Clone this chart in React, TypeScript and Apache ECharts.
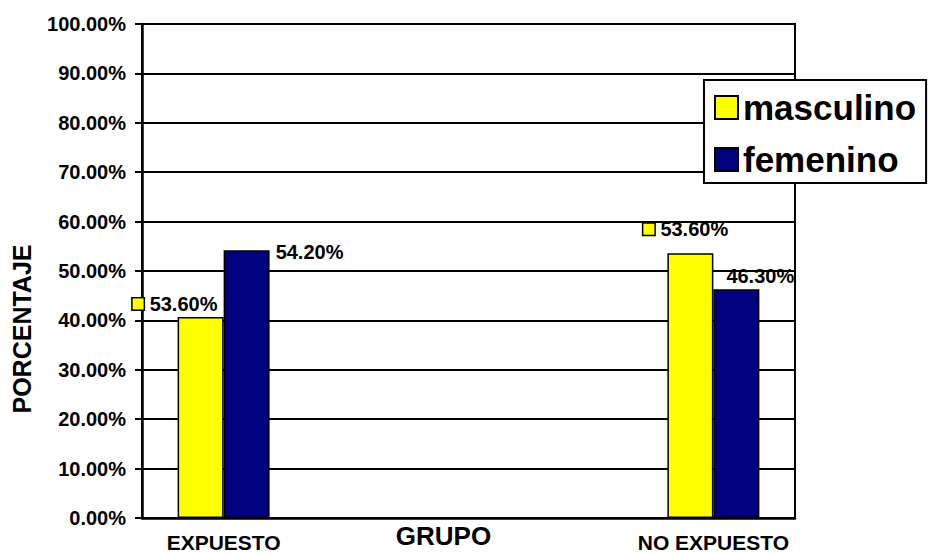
import { useEffect, useRef } from 'react';
import * as echarts from 'echarts';

const categories = ['EXPUESTO', '', '', 'NO EXPUESTO'];
const masculino = [40.7, null, null, 53.6];
const femenino = [54.2, null, null, 46.3];
const masculinoLabels = ['53.60%', '', '', '53.60%'];
const femeninoLabels = ['54.20%', '', '', '46.30%'];
const seriesNames = ['masculino', 'femenino'];
const yMin = 0;
const yMax = 100;
const yStep = 10;

const FONT = '"Liberation Sans", Arial, sans-serif';
const YELLOW = '#FFFF00';
const NAVY = '#000080';

const mascLabelPos: (number[] | null)[] = [[-45, -23], null, null, [-24, -34]];
const femLabelPos: (number[] | null)[] = [[52, -8], null, null, [13, -23]];

export default function App() {
  const ref = useRef<HTMLDivElement>(null);
  useEffect(() => {
    document.body.style.margin = '0';
    if (!ref.current) return;
    const chart = echarts.init(ref.current, null, { renderer: 'svg' });

    const mascData = masculino.map((v, i) =>
      v == null
        ? null
        : {
            value: v,
            label: {
              show: true,
              position: mascLabelPos[i] as any,
              formatter: '{k|}{v|' + masculinoLabels[i] + '}',
              rich: {
                k: {
                  width: 11,
                  height: 11,
                  backgroundColor: YELLOW,
                  borderColor: '#000',
                  borderWidth: 1.5,
                  verticalAlign: 'middle',
                },
                v: {
                  fontFamily: FONT,
                  fontWeight: 'bold',
                  fontSize: 20,
                  color: '#000',
                  padding: [0, 0, 0, 6],
                  verticalAlign: 'middle',
                },
              },
            },
          }
    );
    const femData = femenino.map((v, i) =>
      v == null
        ? null
        : {
            value: v,
            label: {
              show: true,
              position: femLabelPos[i] as any,
              formatter: femeninoLabels[i],
              fontFamily: FONT,
              fontWeight: 'bold',
              fontSize: 20,
              color: '#000',
            },
          }
    );

    chart.setOption({
      animation: false,
      backgroundColor: '#fff',
      textStyle: { fontFamily: FONT },
      grid: {
        left: 142,
        right: 140,
        top: 24,
        bottom: 36,
        outerBoundsMode: 'none',
        containLabel: false,
        show: true,
        borderColor: '#000',
        borderWidth: 2,
        backgroundColor: '#fff',
      },
      legend: {
        orient: 'vertical',
        left: 704,
        top: 80,
        padding: [10, 10, 6, 10],
        itemWidth: 23,
        itemHeight: 23,
        itemGap: 17,
        itemTextGap: 10,
        backgroundColor: '#fff',
        borderColor: '#000',
        borderWidth: 2,
        icon: 'rect',
        data: seriesNames,
        textStyle: {
          fontFamily: FONT,
          fontWeight: 'bold',
          fontSize: 35,
          color: '#000',
        },
      },
      xAxis: {
        type: 'category',
        data: categories,
        name: 'GRUPO',
        nameLocation: 'middle',
        nameGap: 5,
        nameMoveOverlap: false,
        nameTextStyle: {
          fontFamily: FONT,
          fontWeight: 'bold',
          fontSize: 26,
          color: '#000',
          padding: [0, 50, 0, 0],
        },
        axisLine: { show: true, lineStyle: { color: '#000', width: 2.5 } },
        axisTick: { show: false },
        axisLabel: {
          interval: 0,
          margin: 14,
          fontFamily: FONT,
          fontWeight: 'bold',
          fontSize: 21,
          color: '#000',
        },
        splitLine: { show: false },
      },
      yAxis: {
        type: 'value',
        min: yMin,
        max: yMax,
        interval: yStep,
        name: 'PORCENTAJE',
        nameLocation: 'middle',
        nameGap: 108,
        nameMoveOverlap: false,
        nameTextStyle: {
          fontFamily: FONT,
          fontWeight: 'bold',
          fontSize: 25,
          color: '#000',
          padding: [0, 116, 0, 0],
        },
        axisLine: { show: true, lineStyle: { color: '#000', width: 2.5 } },
        axisTick: { show: true, length: 7, lineStyle: { color: '#000', width: 2 } },
        axisLabel: {
          margin: 16,
          fontFamily: FONT,
          fontWeight: 'bold',
          fontSize: 20,
          color: '#000',
          formatter: (v: number) => v.toFixed(2) + '%',
        },
        splitLine: { show: true, lineStyle: { color: '#000', width: 2 } },
      },
      series: [
        {
          name: seriesNames[0],
          type: 'bar',
          data: mascData,
          barWidth: 46,
          barGap: '0%',
          itemStyle: { color: YELLOW, borderColor: '#000', borderWidth: 1.5 },
        },
        {
          name: seriesNames[1],
          type: 'bar',
          data: femData,
          barWidth: 46,
          barGap: '0%',
          itemStyle: { color: NAVY, borderColor: '#000', borderWidth: 1.5 },
        },
      ],
    });
    return () => chart.dispose();
  }, []);
  return <div ref={ref} style={{ width: 935, height: 554 }} />;
}
